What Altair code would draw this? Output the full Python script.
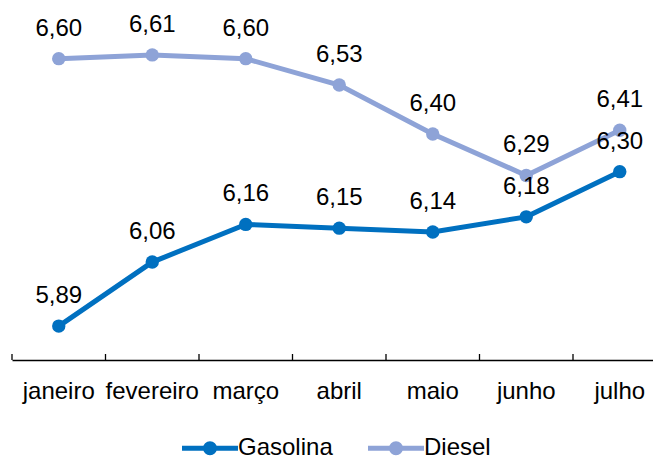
import altair as alt
import pandas as pd

months = ["janeiro", "fevereiro", "março", "abril", "maio", "junho", "julho"]
gasolina = [5.89, 6.06, 6.16, 6.15, 6.14, 6.18, 6.30]
diesel = [6.60, 6.61, 6.60, 6.53, 6.40, 6.29, 6.41]
series = ["Gasolina", "Diesel"]
colors = ["#0070C0", "#8EA3D7"]

rows = []
for name, vals in zip(series, [gasolina, diesel]):
    for m, v in zip(months, vals):
        rows.append({"mes": m, "serie": name, "valor": v})
df = pd.DataFrame(rows)

FONT = "Liberation Sans"
FS = 24

x_scale = alt.Scale(type="band", range=[0, 654.5], paddingInner=0, paddingOuter=0)

x_enc = alt.X(
    "mes:N",
    sort=months,
    scale=x_scale,
    axis=alt.Axis(
        title=None,
        ticks=False,
        tickSize=0,
        labelAngle=0,
        labelFontSize=FS,
        labelFont=FONT,
        labelColor="#000000",
        labelBaseline="alphabetic",
        labelPadding=38,
        domainColor="#000000",
        domainWidth=1.3,
        grid=False,
    ),
)
y_enc = alt.Y("valor:Q", scale=alt.Scale(domain=[5.8, 6.7]), axis=None)
color_enc = alt.Color(
    "serie:N",
    scale=alt.Scale(domain=series, range=colors),
    legend=alt.Legend(
        title=None,
        orient="none",
        direction="horizontal",
        legendX=186,
        legendY=415,
        padding=0,
        symbolType="M-4,0L4,0M-0.64,0A0.64,0.64,0,1,1,0.64,0A0.64,0.64,0,1,1,-0.64,0M-0.3,0A0.3,0.3,0,1,1,0.3,0A0.3,0.3,0,1,1,-0.3,0",
        symbolSize=196,
        symbolStrokeWidth=5,
        labelFontSize=FS,
        labelFont=FONT,
        labelColor="#000000",
        labelOffset=16,
        columnPadding=25,
    ),
)

base = alt.Chart(df)

lines = base.mark_line(strokeWidth=5).encode(x=x_enc, y=y_enc, color=color_enc)
points = base.mark_circle(size=180, opacity=1).encode(x=x_enc, y=y_enc, color=color_enc)
labels = base.transform_calculate(
    lbl="replace(format(datum.valor, '.2f'), '.', ',')"
).mark_text(
    baseline="alphabetic", dy=-23, fontSize=FS, font=FONT, color="#000000"
).encode(x=x_enc, y=y_enc, text="lbl:N")

ticks = alt.Chart(pd.DataFrame({"mes": months})).mark_rule(
    color="#000000", strokeWidth=1.3
).encode(
    x=alt.X("mes:N", sort=months, bandPosition=0),
    y=alt.value(333),
    y2=alt.value(339),
)

chart = alt.layer(lines, points, labels, ticks).properties(
    width=641,
    height=339,
    autosize=alt.AutoSizeParams(type="none"),
    padding={"left": 4, "top": 13, "right": 0, "bottom": 101},
).configure_view(stroke=None)

chart.save("out.html", embed_options={"renderer": "svg", "actions": False})
